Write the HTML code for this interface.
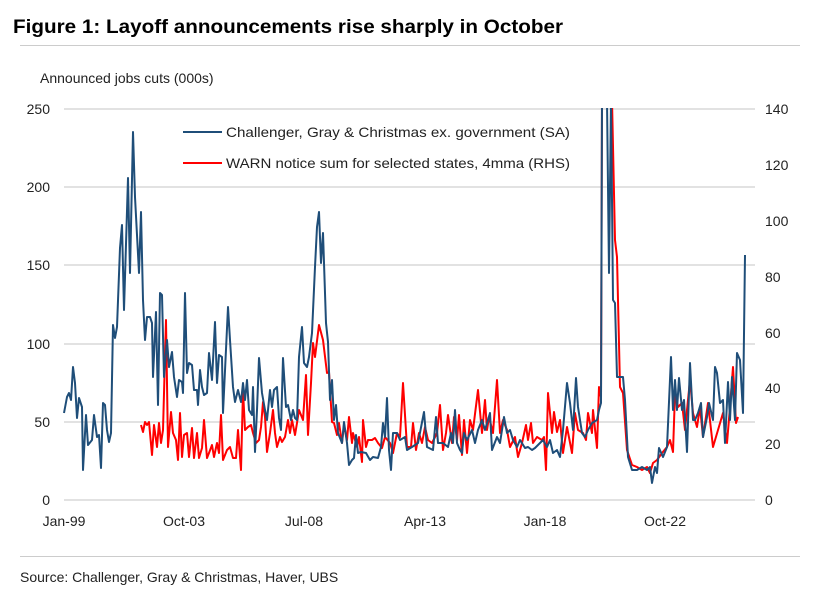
<!DOCTYPE html>
<html><head><meta charset="utf-8"><style>
body{margin:0;background:#fff;}
svg{display:block;font-family:"Liberation Sans",sans-serif;}
</style></head><body>
<svg width="830" height="597" viewBox="0 0 830 597">
<defs><clipPath id="c"><rect x="55" y="108" width="710" height="400"/></clipPath></defs>
<text x="13" y="33" font-size="19" font-weight="bold" fill="#000" textLength="550" lengthAdjust="spacingAndGlyphs">Figure 1: Layoff announcements rise sharply in October</text>
<line x1="20" y1="45.5" x2="800" y2="45.5" stroke="#ccc" stroke-width="1"/>
<text x="40" y="83" font-size="14" fill="#222">Announced jobs cuts (000s)</text>
<g stroke="#d9d9d9" stroke-width="1.5">
<line x1="64" y1="109" x2="755" y2="109"/><line x1="64" y1="187" x2="755" y2="187"/>
<line x1="64" y1="265" x2="755" y2="265"/><line x1="64" y1="344" x2="755" y2="344"/>
<line x1="64" y1="422" x2="755" y2="422"/><line x1="64" y1="500" x2="755" y2="500"/>
</g>
<g font-size="14" fill="#222" text-anchor="end">
<text x="50" y="114">250</text><text x="50" y="192">200</text><text x="50" y="270">150</text>
<text x="50" y="349">100</text><text x="50" y="427">50</text><text x="50" y="505">0</text>
</g>
<g font-size="14" fill="#222">
<text x="765" y="114">140</text><text x="765" y="170">120</text><text x="765" y="226">100</text>
<text x="765" y="282">80</text><text x="765" y="338">60</text><text x="765" y="393">40</text>
<text x="765" y="449">20</text><text x="765" y="505">0</text>
</g>
<g font-size="14" fill="#222" text-anchor="middle">
<text x="64" y="526">Jan-99</text><text x="184" y="526">Oct-03</text><text x="304" y="526">Jul-08</text>
<text x="425" y="526">Apr-13</text><text x="545" y="526">Jan-18</text><text x="665" y="526">Oct-22</text>
</g>
<g clip-path="url(#c)" fill="none" stroke-width="2" stroke-linejoin="round">
<polyline stroke="#ff0000" points="141,425 143,432 145,422 147,425 149,422 152,455 154,425 157,447 159,423 161,443 163,430 166,320 168,447 171,412 173,433 176,440 178,460 180,413 182,457 184,435 187,433 189,457 192,428 194,458 197,433 199,458 202,448 204,420 207,458 209,453 212,445 214,457 217,443 219,453 221,415 223,460 227,450 230,447 233,458 236,458 238,430 241,470 243,390 245,430 248,427 251,425 253,433 256,443 259,440 261,427 263,402 265,417 267,452 270,433 273,410 275,433 277,447 280,437 282,442 285,437 288,420 290,433 292,420 295,435 297,423 299,410 303,420 306,375 308,435 311,383 313,343 315,357 319,325 323,340 327,373 329,372 332,422 334,423 337,435 339,423 342,443 344,425 347,440 349,417 352,443 353,433 357,447 359,437 362,462 363,420 366,447 368,440 372,440 375,438 378,443 382,448 385,437 390,443 393,453 397,433 400,437 403,383 407,447 411,447 413,423 416,450 419,433 422,443 425,427 428,440 432,443 437,433 440,405 443,450 446,433 448,415 452,443 454,417 457,440 459,415 462,455 464,420 467,453 470,420 473,430 478,390 482,433 485,400 487,430 489,417 493,433 497,380 500,433 503,420 507,430 510,447 515,437 518,457 522,443 526,425 528,440 531,423 533,443 537,437 542,440 544,437 546,470 548,393 552,433 554,412 557,432 560,420 563,453 567,427 572,453 575,413 578,430 583,433 586,440 588,413 592,433 593,410 597,448 599,387 601,397 602,100 612,100 615,240 617,257 620,387 623,393 627,450 632,465 637,467 642,470 647,467 650,473 653,463 657,460 662,453 667,447 670,440 673,452 675,393 678,407 682,403 685,430 690,380 693,413 697,427 700,407 703,437 708,403 713,447 718,430 723,413 727,443 730,407 733,367 736,423 738,417"/>
<polyline stroke="#1f4e79" points="64,413 67,397 69,393 71,400 73,367 75,383 77,418 79,398 82,407 83,470 86,415 88,445 92,440 94,415 97,437 99,435 101,468 103,403 105,405 107,430 109,442 111,433 113,325 115,338 117,327 120,248 122,225 124,310 128,178 130,273 133,132 135,197 139,273 141,212 143,300 145,340 147,317 150,317 152,323 153,377 156,312 158,405 160,293 162,295 164,377 167,340 169,367 172,352 174,377 177,397 179,380 182,382 183,393 185,293 187,373 189,363 192,365 194,390 197,390 198,405 200,370 202,387 204,395 207,393 209,353 212,380 215,322 217,383 219,355 222,357 223,413 228,307 230,340 233,387 235,402 238,390 241,402 243,383 245,400 247,380 249,410 252,415 253,387 255,452 257,410 259,358 262,393 265,410 267,420 270,390 272,407 274,390 277,387 279,418 281,430 283,358 286,407 288,405 291,420 293,410 295,418 297,420 299,357 302,327 304,363 307,367 309,357 312,333 315,267 317,227 319,212 321,263 323,233 326,323 328,342 330,400 332,380 334,420 336,405 338,433 342,443 344,422 347,443 349,465 352,460 354,458 356,435 358,453 361,452 366,453 370,460 373,457 378,458 381,447 383,423 385,437 387,398 389,450 391,470 393,433 397,433 400,440 405,437 407,450 412,447 418,443 424,412 427,447 433,450 436,417 438,443 443,443 448,447 451,433 453,443 455,410 457,443 460,450 462,453 464,433 467,440 472,430 475,443 478,430 482,420 485,430 490,413 492,450 497,437 500,443 504,417 507,433 510,430 513,440 517,447 520,440 525,448 528,447 532,450 535,448 540,443 543,440 547,447 550,440 553,453 557,450 560,457 563,430 567,383 570,403 573,430 576,378 578,407 582,433 585,437 588,430 592,423 597,420 599,410 601,403 602,100 606,100 607,100 609,273 611,100 613,300 615,303 617,377 620,377 623,377 625,400 628,457 632,470 637,470 642,467 647,470 650,467 652,483 655,467 657,473 659,448 663,457 667,447 671,357 673,410 675,380 677,410 679,378 682,410 684,400 687,452 690,363 693,420 695,420 698,413 701,403 703,437 707,417 709,403 713,420 715,367 717,373 720,403 723,400 725,443 728,382 730,420 732,377 735,420 737,353 740,360 743,413 745,255"/>
</g>
<rect x="176" y="118" width="400" height="60" fill="#fff"/>
<line x1="183" y1="132" x2="222" y2="132" stroke="#1f4e79" stroke-width="2"/>
<line x1="183" y1="163" x2="222" y2="163" stroke="#ff0000" stroke-width="2"/>
<text x="226" y="137" font-size="14" fill="#222" textLength="344" lengthAdjust="spacingAndGlyphs">Challenger, Gray &amp; Christmas ex. government (SA)</text>
<text x="226" y="168" font-size="14" fill="#222" textLength="344" lengthAdjust="spacingAndGlyphs">WARN notice sum for selected states, 4mma (RHS)</text>
<line x1="20" y1="556.5" x2="800" y2="556.5" stroke="#ccc" stroke-width="1"/>
<text x="20" y="582" font-size="14" fill="#222">Source: Challenger, Gray &amp; Christmas, Haver, UBS</text>
</svg>
</body></html>
